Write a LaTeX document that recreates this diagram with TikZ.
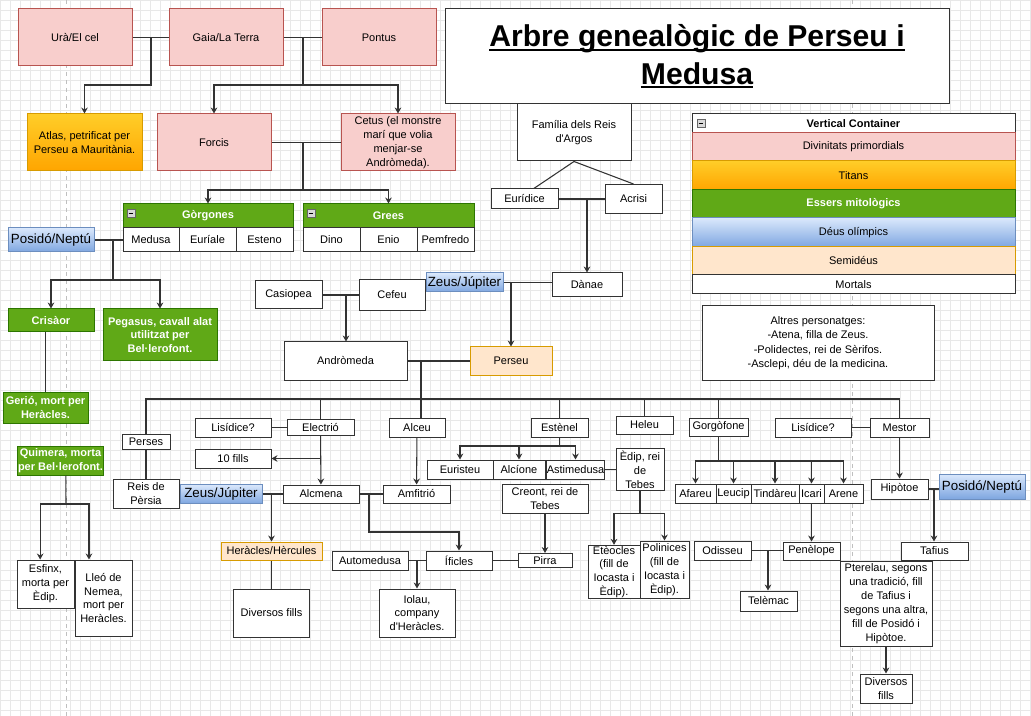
\documentclass[tikz,border=0pt]{standalone}
\usepackage{fontspec}
\setmainfont{Liberation Sans}[Ligatures=TeXOff]
\usetikzlibrary{arrows.meta}

\definecolor{pinkF}{HTML}{F8CECC}
\definecolor{pinkD}{HTML}{B85450}
\definecolor{orangeT}{HTML}{FFCD28}
\definecolor{orangeB}{HTML}{FFA500}
\definecolor{orangeD}{HTML}{D79B00}
\definecolor{greenF}{HTML}{60A917}
\definecolor{greenD}{HTML}{2D7600}
\definecolor{blueT}{HTML}{DAE8FC}
\definecolor{blueB}{HTML}{7EA6E0}
\definecolor{blueD}{HTML}{6C8EBF}
\definecolor{peachF}{HTML}{FFE6CC}

\newcommand\treefont{\fontsize{8.25}{10.4}\selectfont}
\newcommand\godfont{\fontsize{10}{12}\selectfont}
\newcommand\uln[1]{\setbox0\hbox{#1}\rlap{\rule[-3pt]{\wd0}{1.6pt}}\box0}

\begin{document}
\begin{tikzpicture}[x=0.75pt, y=-0.75pt, >={Stealth[length=4.5pt,width=5pt,inset=1.5pt]},
  box/.style={draw=black!80, line width=0.75pt, fill=white, inner sep=0.5pt, align=center, font=\treefont},
  primal/.style={box, draw=pinkD, fill=pinkF},
  titan/.style={box, draw=orangeD, top color=orangeT, bottom color=orangeB},
  myth/.style={box, draw=greenD, fill=greenF, text=white, font=\treefont\bfseries},
  olymp/.style={box, draw=blueD, top color=blueT, bottom color=blueB},
  god/.style={olymp, font=\godfont},
  semi/.style={box, draw=orangeD, fill=peachF},
  sz/.style 2 args={minimum width=#1*0.75pt, minimum height=#2*0.75pt},
  minus/.style={draw=black!60, fill=black!15, minimum size=6pt, inner sep=0pt,
    path picture={\draw[black, line width=0.6pt] ([xshift=1.3pt]path picture bounding box.west) -- ([xshift=-1.3pt]path picture bounding box.east);}},
  link/.style={draw=black!80, line width=0.8pt},
  gridline/.style={draw=black!9, line width=0.4pt},
  pagebreak/.style={draw=black!25, dashed, line width=0.5pt}]

  \useasboundingbox (0,0) rectangle (1031,716);
  \draw[gridline, step=7.5pt] (0,716) grid (1031,0);
  \draw[pagebreak] (66,0) -- (66,716);
  \draw[pagebreak] (852,0) -- (852,716);

  % primordial gods
  \node[primal, sz={114}{57}] (ura) at (75,37.5) {Urà/El cel};
  \node[primal, sz={114}{57}] (gaia) at (226,37.5) {Gaia/La Terra};
  \node[primal, sz={114}{57}] (pontus) at (379,37.5) {Pontus};
  \node[titan, sz={115}{57}] (atlas) at (84.5,142.5) {Atlas, petrificat per\\Perseu a Mauritània.};
  \node[primal, sz={114}{57}] (forcis) at (214,142.5) {Forcis};
  \node[primal, sz={114}{57}] (cetus) at (398,142.5) {Cetus (el monstre\\marí que volia\\menjar-se\\Andròmeda).};

  % title and Argos
  \node[box, sz={504}{95}, font=\fontsize{22.6}{28}\selectfont\bfseries] (title) at (697,56.5)
    {\uln{Arbre genealògic de Perseu i}\\\uln{Medusa}};
  \node[box, sz={114}{57}] (familia) at (574,132.5) {Família dels Reis\\d'Argos};
  \node[box, sz={67}{20}] (euridice) at (524.5,199) {Eurídice};
  \node[box, sz={57}{29}] (acrisi) at (633.5,199) {Acrisi};
  \node[box, sz={70}{24}] (danae) at (587,285) {Dànae};
  \node[god, sz={77}{19}] (zeusA) at (464.5,282.5) {Zeus/Júpiter};
  \node[semi, sz={82}{28}] (perseu) at (511,361) {Perseu};
  \node[box, sz={67}{28}] (casiopea) at (288.5,295) {Casiopea};
  \node[box, sz={66}{31}] (cefeu) at (392,295) {Cefeu};
  \node[box, sz={123}{38}] (andromeda) at (345.5,361) {Andròmeda};

  % Gorgones and Grees
  \node[myth, sz={170}{24}] (gorgones) at (208,216) {Gòrgones};
  \node[box, sz={56}{24}] (medusa) at (151,240) {Medusa};
  \node[box, sz={57}{24}] (euriale) at (207.5,240) {Euríale};
  \node[box, sz={57}{24}] (esteno) at (264.5,240) {Esteno};
  \node[minus] at (131,213) {};
  \node[myth, sz={171}{24}] (grees) at (388.5,216) {Grees};
  \node[box, sz={57}{24}] (dino) at (331.5,240) {Dino};
  \node[box, sz={57}{24}] (enio) at (388.5,240) {Enio};
  \node[box, sz={57}{24}] (pemfredo) at (445.5,240) {Pemfredo};
  \node[minus] at (311,213) {};

  % left side
  \node[god, sz={86}{24}] (posidoA) at (51,240) {Posidó/Neptú};
  \node[myth, sz={86}{23}] (crisaor) at (51,320.5) {Crisàor};
  \node[myth, sz={114}{52}] (pegasus) at (160,335) {Pegasus, cavall alat\\utilitzat per\\Bel·lerofont.};
  \node[myth, sz={85}{31}] (gerio) at (45.5,407.5) {Gerió, mort per\\Heràcles.};
  \node[myth, sz={85}{29}] (quimera) at (60.5,460.5) {Quimera, morta\\per Bel·lerofont.};
  \node[box, sz={57}{48}] (esfinx) at (45.5,584) {Esfinx,\\morta per\\Èdip.};
  \node[box, sz={57}{76}] (lleo) at (103.5,598) {Lleó de\\Nemea,\\mort per\\Heràcles.};

  % children of Perseu
  \node[box, sz={48}{15}] (perses) at (146,441.5) {Perses};
  \node[box, sz={66}{29}] (reis) at (146,493.5) {Reis de\\Pèrsia};
  \node[god, sz={82}{19}] (zeusB) at (221,494) {Zeus/Júpiter};
  \node[box, sz={76}{19}] (lisidiceA) at (233,427.5) {Lisídice?};
  \node[box, sz={67}{16}] (electrio) at (320.5,427.5) {Electrió};
  \node[box, sz={76}{19}] (fills) at (233,458.5) {10 fills};
  \node[box, sz={76}{18}] (alcmena) at (321,494) {Alcmena};
  \node[semi, sz={101}{18}] (heracles) at (271.5,551) {Heràcles/Hèrcules};
  \node[box, sz={76}{48}] (diversosA) at (271.5,613) {Diversos fills};
  \node[box, sz={56}{19}] (alceu) at (417,427.5) {Alceu};
  \node[box, sz={67}{18}] (amfitrio) at (416.5,494) {Amfitrió};
  \node[box, sz={66}{19}] (ificles) at (459,560.5) {Íficles};
  \node[box, sz={76}{19}] (automedusa) at (370,560.5) {Automedusa};
  \node[box, sz={76}{48}] (iolau) at (417,613) {Iolau,\\company\\d'Heràcles.};
  \node[box, sz={57}{19}] (estenel) at (559.5,427.5) {Estènel};
  \node[box, sz={57}{18}] (heleu) at (644.5,425) {Heleu};
  \node[box, sz={66}{19}] (euristeu) at (460,469.5) {Euristeu};
  \node[box, sz={52}{19}] (alcione) at (519,469.5) {Alcíone};
  \node[box, sz={57}{19}] (astimedusa) at (575.5,469.5) {Astimedusa};
  \node[box, sz={48}{42}] (edip) at (640,469.5) {Èdip, rei\\de\\Tebes};
  \node[box, sz={86}{29}] (creont) at (545,498.5) {Creont, rei de\\Tebes};
  \node[box, sz={54}{14}] (pirra) at (545,560.5) {Pirra};
  \node[box, sz={52}{52}] (eteocles) at (614,572) {Etèocles\\(fill de\\Iocasta i\\Èdip).};
  \node[box, sz={49}{57}] (polinices) at (664.5,569.5) {Polinices\\(fill de\\Iocasta i\\Èdip).};
  \node[box, sz={59}{18}] (gorgofone) at (718.5,427) {Gorgòfone};
  \node[box, sz={76}{19}] (lisidiceB) at (813,427.5) {Lisídice?};
  \node[box, sz={59}{19}] (mestor) at (899.5,427.5) {Mestor};
  \node[box, sz={41}{19}] (afareu) at (695.5,493.5) {Afareu};
  \node[box, sz={35}{19}] (leucip) at (733.5,493.5) {Leucip};
  \node[box, sz={48}{19}] (tindareu) at (775,493.5) {Tindàreu};
  \node[box, sz={25}{19}] (icari) at (811.5,493.5) {Icari};
  \node[box, sz={39}{19}] (arene) at (843.5,493.5) {Arene};
  \node[box, sz={57}{20}] (hipotoe) at (899.5,489) {Hipòtoe};
  \node[god, sz={86}{25}] (posidoB) at (982,486.5) {Posidó/Neptú};
  \node[box, sz={67}{18}] (tafius) at (934.5,551) {Tafius};
  \node[box, sz={57}{18}] (penelope) at (811.5,551) {Penèlope};
  \node[box, sz={57}{19}] (odisseu) at (722.5,550.5) {Odisseu};
  \node[box, sz={57}{20}] (telemac) at (768.5,601) {Telèmac};
  \node[box, sz={92}{85}] (pterelau) at (886,603.5) {Pterelau, segons\\una tradició, fill\\de Tafius i\\segons una altra,\\fill de Posidó i\\Hipòtoe.};
  \node[box, sz={52}{29}] (diversosB) at (886,688.5) {Diversos\\fills};

  % legend
  \node[box, sz={323}{180}] (legend) at (853.5,204) {};
  \node[box, sz={323}{19}, font=\treefont\bfseries] (hdr) at (853.5,123.5) {Vertical Container};
  \node[minus] at (701,123) {};
  \node[primal, sz={323}{28}] (kprimal) at (853.5,147) {Divinitats primordials};
  \node[titan, sz={323}{29}] (ktitan) at (853.5,175.5) {Titans};
  \node[myth, sz={323}{28}] (kmyth) at (853.5,204) {Essers mitològics};
  \node[olymp, sz={323}{29}] (kolymp) at (853.5,232.5) {Déus olímpics};
  \node[semi, sz={323}{28}] (ksemi) at (853.5,261) {Semidéus};
  \node[box, sz={323}{19}] (kmortal) at (853.5,284.5) {Mortals};
  \node[box, sz={232}{74}, font=\fontsize{8.25}{10.9}\selectfont] (altres) at (818,343)
    {Altres personatges:\\-Atena, filla de Zeus.\\-Polidectes, rei de Sèrifos.\\-Asclepi, déu de la medicina.};

  % Ura and Gaia, Gaia and Pontus, Forcis and Cetus
  \coordinate (uj) at (151,37.5);
  \coordinate (ub) at (151,85);
  \draw[link] (ura) -- (gaia);
  \draw[link, ->] (uj) -- (ub) -| (atlas.north);
  \coordinate (gj) at (303,37.5);
  \coordinate (gb) at (303,85);
  \draw[link] (gaia) -- (pontus);
  \draw[link, ->] (gj) -- (gb) -| (forcis.north);
  \draw[link, ->] (gb) -| (cetus.north);
  \coordinate (fj) at (303,142.5);
  \coordinate (fb) at (303,190);
  \draw[link] (forcis) -- (cetus);
  \draw[link, ->] (fj) -- (fb) -| (gorgones.north);
  \draw[link, ->] (fb) -| (grees.north);

  % Posido and Medusa
  \coordinate (pj) at (113,240);
  \coordinate (pb) at (113,280);
  \draw[link] (posidoA) -- (medusa);
  \draw[link, ->] (pj) -- (pb) -| (crisaor.north);
  \draw[link, ->] (pb) -| (pegasus.north);
  \draw[link] (gerio.north |- crisaor.south) -- (gerio.north);
  \coordinate (qb) at (66,504);
  \draw[link] ([xshift=4pt]quimera.south) -- (qb);
  \draw[link, ->] (qb) -| ([xshift=-4pt]esfinx.north);
  \draw[link, ->] (qb) -| ([xshift=-10.9pt]lleo.north);

  % Argos
  \draw[link] (familia.south) -- ([xshift=7pt]euridice.north);
  \draw[link] (familia.south) -- (acrisi.north);
  \coordinate (ej) at (587,199);
  \draw[link] (euridice.east) -- (euridice.east -| acrisi.west);
  \draw[link, ->] (ej) -- (danae);
  \coordinate (zj) at (511,282.5);
  \draw[link] (zeusA.east) -- (zeusA.east -| danae.west);
  \draw[link, ->] (zj) -- (perseu);
  \coordinate (cj) at (346,295);
  \draw[link] (casiopea) -- (cefeu);
  \draw[link, ->] (cj) -- (cj |- andromeda.north);

  % Perseu and Andromeda
  \coordinate (aj) at (421,361);
  \coordinate (bus) at (421,399);
  \draw[link] (andromeda) -- (perseu);
  \draw[link] (aj) -- (aj |- alceu.north);
  \draw[link] (perses.north) -- (perses.north |- bus) -- (mestor.north |- bus) -- (mestor.north);
  \draw[link] (electrio.north |- bus) -- (electrio.north);
  \draw[link] (estenel.north |- bus) -- (estenel.north);
  \draw[link] (heleu.north |- bus) -- (heleu.north);
  \draw[link] (gorgofone.north |- bus) -- (gorgofone.north);

  % Perses, Electrio, Alceu
  \draw[link] (perses) -- (reis);
  \draw[link] (lisidiceA) -- (electrio);
  \draw[link, ->] (electrio) -- (alcmena);
  \draw[link, ->] (electrio.south |- fills) -- (fills);
  \coordinate (hj) at (271.5,494);
  \draw[link] (zeusB) -- (alcmena);
  \draw[link, ->] (hj) -- (heracles);
  \draw[link] (heracles) -- (diversosA);
  \draw[link, ->] (alceu) -- (amfitrio);
  \coordinate (mj) at (369,494);
  \coordinate (mb) at (369,532);
  \draw[link] (alcmena) -- (amfitrio);
  \draw[link, ->] (mj) -- (mb) -| (ificles.north);
  \coordinate (ij) at (417,560.5);
  \draw[link] (automedusa) -- (ificles);
  \draw[link, ->] (ij) -- (iolau);
  \draw[link] (ificles) -- (pirra);

  % Estenel
  \coordinate (sb) at (559.5,446);
  \draw[link] (estenel) -- (sb);
  \draw[link, ->] (sb) -| (euristeu.north);
  \draw[link, ->] (sb) -| (alcione.north);
  \draw[link, ->] (sb) -| (astimedusa.north);
  \draw[link] (astimedusa) -- (edip);
  \draw[link, ->] (creont) -- (pirra);
  \coordinate (db) at (edip.south |- creont.south);
  \draw[link] (edip) -- (db);
  \draw[link, ->] (db) -| (eteocles.north);
  \draw[link, ->] (db) -| (polinices.north);

  % Gorgofone and Mestor
  \coordinate (ob) at (718.5,461);
  \draw[link] (gorgofone) -- (ob);
  \draw[link, ->] (ob) -| (afareu.north);
  \draw[link, ->] (ob) -| (leucip.north);
  \draw[link, ->] (ob) -| (tindareu.north);
  \draw[link, ->] (ob) -| (icari.north);
  \draw[link, ->] (ob) -| (arene.north);
  \draw[link] (lisidiceB) -- (mestor);
  \draw[link, ->] (mestor) -- (hipotoe);
  \coordinate (tj) at (934,489);
  \draw[link] (hipotoe.east) -- (hipotoe.east -| posidoB.west);
  \draw[link, ->] (tj) -- (tj |- tafius.north);
  \draw[link, ->] (icari) -- (penelope);
  \coordinate (nj) at (768,550.5);
  \draw[link] (odisseu.east) -- (odisseu.east -| penelope.west);
  \draw[link, ->] (nj) -- (nj |- telemac.north);
  \draw[link, ->] (pterelau) -- (diversosB);
\end{tikzpicture}
\end{document}
